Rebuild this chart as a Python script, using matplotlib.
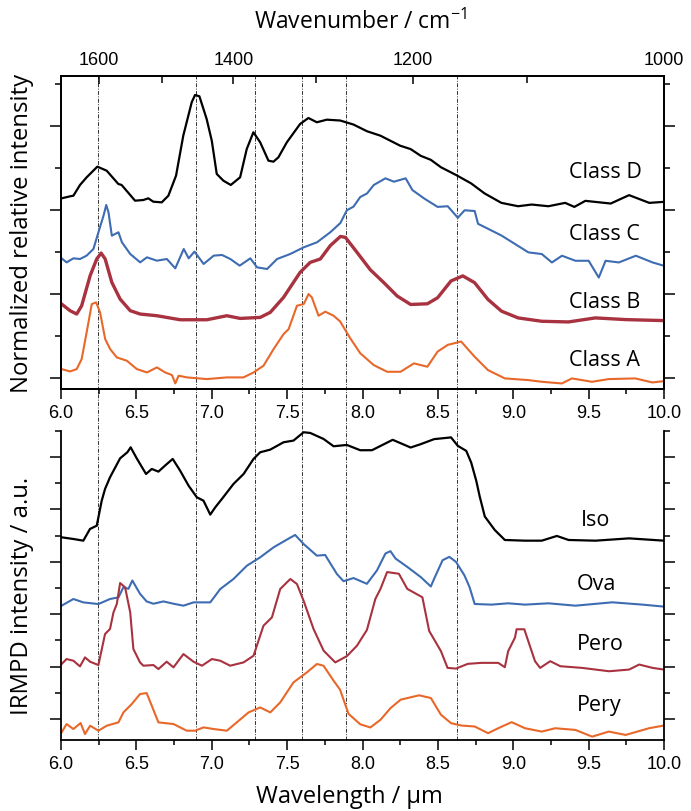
import numpy as np
import matplotlib
matplotlib.use("Agg")
import matplotlib.pyplot as plt
from matplotlib.ticker import MultipleLocator, FixedLocator, NullFormatter
from matplotlib.lines import Line2D
import matplotlib.transforms as mtransforms

plt.rcParams['font.family'] = ['Liberation Sans', 'DejaVu Sans']
plt.rcParams['mathtext.fontset'] = 'custom'
plt.rcParams['mathtext.rm'] = 'Open Sans'
plt.rcParams['mathtext.default'] = 'regular'

# ---- top panel: classes (wavelength in um, offset intensity) ----
class_d_x = [6.004, 6.06, 6.082, 6.126, 6.17, 6.241, 6.303, 6.38, 6.402, 6.491, 6.546, 6.579, 6.612,
             6.668, 6.712, 6.763, 6.811, 6.867, 6.889, 6.918, 6.966, 7.0, 7.033, 7.077, 7.126, 7.188,
             7.232, 7.276, 7.321, 7.376, 7.409, 7.442, 7.498, 7.586, 7.641, 7.697, 7.763, 7.852,
             7.94, 8.03, 8.118, 8.25, 8.319, 8.386, 8.453, 8.52, 8.62, 8.72, 8.81, 8.921, 9.032,
             9.122, 9.233, 9.344, 9.405, 9.478, 9.646, 9.768, 9.902, 10.0]
class_d_y = [2.139, 2.163, 2.17, 2.298, 2.389, 2.516, 2.468, 2.31, 2.298, 2.111, 2.119, 2.139, 2.099,
             2.091, 2.17, 2.409, 2.885, 3.282, 3.369, 3.353, 3.083, 2.825, 2.429, 2.349, 2.298, 2.389,
             2.726, 2.925, 2.806, 2.587, 2.575, 2.627, 2.806, 3.024, 3.095, 3.044, 3.075, 3.065,
             3.017, 2.937, 2.885, 2.765, 2.725, 2.645, 2.597, 2.509, 2.417, 2.317, 2.197, 2.085, 2.045,
             2.065, 2.045, 2.085, 2.037, 2.109, 2.077, 2.177, 2.085, 2.097]

class_c_x = [6.004, 6.037, 6.082, 6.126, 6.17, 6.215, 6.248, 6.282, 6.3, 6.315, 6.337, 6.381, 6.404,
             6.459, 6.525, 6.57, 6.636, 6.702, 6.758, 6.814, 6.847, 6.885, 6.946, 7.013, 7.068, 7.123,
             7.185, 7.256, 7.3, 7.367, 7.433, 7.521, 7.61, 7.698, 7.786, 7.853, 7.896, 7.94, 7.985,
             8.03, 8.074, 8.152, 8.208, 8.286, 8.331, 8.409, 8.498, 8.565, 8.632, 8.677, 8.744, 8.766,
             8.833, 8.922, 9.011, 9.1, 9.189, 9.256, 9.323, 9.412, 9.5, 9.567, 9.612, 9.7, 9.813,
             9.924, 10.0]
class_c_y = [1.425, 1.377, 1.425, 1.417, 1.457, 1.536, 1.735, 1.933, 2.06, 1.972, 1.695, 1.735, 1.616,
             1.477, 1.377, 1.437, 1.397, 1.417, 1.306, 1.536, 1.425, 1.505, 1.358, 1.457, 1.465, 1.417,
             1.338, 1.425, 1.318, 1.298, 1.417, 1.477, 1.556, 1.616, 1.735, 1.845, 1.997, 2.04, 2.155,
             2.197, 2.297, 2.377, 2.337, 2.377, 2.237, 2.137, 2.037, 2.045, 1.908, 1.997, 1.988, 1.836,
             1.776, 1.696, 1.596, 1.496, 1.476, 1.376, 1.456, 1.396, 1.396, 1.196, 1.396, 1.376, 1.456,
             1.376, 1.336]

class_b_x = [6.004, 6.06, 6.104, 6.137, 6.193, 6.237, 6.266, 6.293, 6.337, 6.392, 6.459, 6.525, 6.636,
             6.791, 6.967, 7.1, 7.188, 7.321, 7.388, 7.476, 7.586, 7.653, 7.72, 7.786, 7.853, 7.886,
             7.963, 8.051, 8.141, 8.23, 8.319, 8.43, 8.498, 8.587, 8.665, 8.743, 8.832, 8.922, 9.032,
             9.189, 9.366, 9.544, 9.745, 10.0]
class_b_y = [0.881, 0.802, 0.762, 0.861, 1.218, 1.417, 1.488, 1.417, 1.139, 0.94, 0.802, 0.762, 0.742,
             0.694, 0.694, 0.742, 0.71, 0.722, 0.782, 0.96, 1.258, 1.377, 1.417, 1.576, 1.685, 1.675,
             1.497, 1.29, 1.136, 0.976, 0.876, 0.884, 0.956, 1.156, 1.216, 1.136, 0.936, 0.796, 0.716,
             0.676, 0.668, 0.716, 0.696, 0.684]

class_a_x = [6.004, 6.06, 6.104, 6.137, 6.17, 6.204, 6.233, 6.259, 6.293, 6.326, 6.37, 6.437, 6.503,
             6.57, 6.636, 6.691, 6.736, 6.758, 6.78, 6.836, 6.968, 7.1, 7.21, 7.277, 7.343, 7.41,
             7.476, 7.51, 7.565, 7.61, 7.642, 7.664, 7.708, 7.753, 7.808, 7.851, 7.918, 7.985, 8.074,
             8.163, 8.252, 8.341, 8.43, 8.498, 8.565, 8.654, 8.743, 8.832, 8.944, 9.1, 9.189, 9.322,
             9.389, 9.522, 9.633, 9.81, 9.922, 10.0]
class_a_y = [0.107, 0.079, 0.107, 0.226, 0.544, 0.881, 0.901, 0.782, 0.464, 0.345, 0.246, 0.206, 0.107,
             0.067, 0.127, 0.067, 0.036, -0.063, 0.028, 0.008, -0.012, 0.008, 0.008, 0.067, 0.147, 0.345,
             0.523, 0.583, 0.861, 0.881, 1.0, 0.96, 0.742, 0.79, 0.742, 0.675, 0.475, 0.295, 0.155,
             0.075, 0.075, 0.175, 0.135, 0.315, 0.395, 0.435, 0.255, 0.095, -0.004, -0.024, -0.044, -0.064,
             -0.004, -0.044, -0.012, -0.004, -0.052, -0.036]

# ---- bottom panel: IRMPD spectra ----
iso_x = [6.004, 6.082, 6.148, 6.192, 6.237, 6.27, 6.292, 6.325, 6.392, 6.44, 6.462, 6.502, 6.564,
         6.602, 6.646, 6.69, 6.741, 6.79, 6.846, 6.901, 6.945, 6.99, 7.023, 7.067, 7.144, 7.211,
         7.277, 7.321, 7.388, 7.476, 7.542, 7.609, 7.653, 7.741, 7.808, 7.896, 7.985, 8.063, 8.2,
         8.319, 8.386, 8.475, 8.587, 8.632, 8.688, 8.721, 8.755, 8.777, 8.811, 8.877, 8.944, 9.078,
         9.189, 9.289, 9.367, 9.545, 9.768, 10.0]
iso_y = [3.467, 3.435, 3.403, 3.626, 3.689, 4.166, 4.389, 4.612, 4.974, 5.089, 5.184, 4.974, 4.675,
         4.771, 4.72, 4.835, 4.962, 4.739, 4.453, 4.23, 4.166, 3.9, 4.039, 4.198, 4.485, 4.675,
         4.962, 5.089, 5.14, 5.28, 5.312, 5.471, 5.458, 5.344, 5.204, 5.229, 5.128, 5.129, 5.327,
         5.18, 5.244, 5.34, 5.373, 5.212, 5.116, 4.891, 4.538, 4.249, 3.864, 3.607, 3.416, 3.403,
         3.403, 3.493, 3.416, 3.403, 3.447, 3.403]

ova_x = [6.004, 6.082, 6.148, 6.248, 6.325, 6.381, 6.414, 6.447, 6.473, 6.524, 6.568, 6.613, 6.679,
         6.746, 6.812, 6.879, 6.99, 7.056, 7.144, 7.233, 7.321, 7.41, 7.498, 7.553, 7.609, 7.697,
         7.752, 7.83, 7.874, 7.94, 8.029, 8.096, 8.152, 8.185, 8.219, 8.297, 8.386, 8.453, 8.475,
         8.531, 8.576, 8.62, 8.676, 8.71, 8.744, 8.855, 8.966, 9.078, 9.234, 9.412, 9.657, 9.857, 10.0]
ova_y = [2.163, 2.29, 2.226, 2.194, 2.29, 2.322, 2.515, 2.484, 2.643, 2.39, 2.244, 2.2, 2.244,
         2.2, 2.163, 2.226, 2.226, 2.48, 2.672, 2.926, 3.085, 3.276, 3.423, 3.512, 3.34, 3.117,
         3.13, 2.767, 2.63, 2.69, 2.58, 2.837, 3.158, 3.203, 3.062, 2.902, 2.709, 2.529, 2.677,
         3.03, 3.094, 2.998, 2.741, 2.516, 2.195, 2.183, 2.208, 2.183, 2.208, 2.163, 2.227, 2.183, 2.145]

pero_x = [6.004, 6.037, 6.082, 6.126, 6.159, 6.193, 6.248, 6.292, 6.325, 6.348, 6.37, 6.392, 6.425,
          6.459, 6.48, 6.524, 6.546, 6.613, 6.646, 6.701, 6.746, 6.812, 6.879, 6.935, 7.001, 7.056,
          7.122, 7.211, 7.277, 7.31, 7.343, 7.399, 7.454, 7.521, 7.565, 7.609, 7.675, 7.742, 7.819,
          7.896, 7.963, 8.029, 8.085, 8.119, 8.163, 8.241, 8.297, 8.397, 8.442, 8.52, 8.564, 8.62,
          8.698, 8.788, 8.9, 8.944, 8.966, 9.011, 9.022, 9.073, 9.144, 9.178, 9.245, 9.312, 9.457,
          9.635, 9.768, 9.835, 9.924, 10.0]
pero_y = [1.05, 1.145, 1.113, 1.005, 1.177, 1.094, 1.03, 1.622, 1.718, 2.036, 2.194, 2.595, 2.513,
          2.036, 1.336, 1.081, 1.018, 1.03, 0.954, 1.094, 0.986, 1.24, 1.094, 1.018, 1.145, 1.113,
          1.018, 1.081, 1.208, 1.495, 1.781, 1.94, 2.481, 2.672, 2.576, 2.258, 1.718, 1.304, 1.081,
          1.2, 1.399, 1.7, 2.291, 2.483, 2.804, 2.772, 2.483, 2.323, 1.681, 1.296, 0.976, 0.963,
          1.053, 1.072, 1.072, 0.989, 1.296, 1.553, 1.713, 1.713, 1.104, 0.976, 1.104, 1.008, 0.976,
          0.912, 0.944, 1.04, 0.976, 0.944]

pery_x = [6.004, 6.037, 6.082, 6.13, 6.159, 6.193, 6.248, 6.303, 6.381, 6.414, 6.469, 6.524, 6.568,
          6.602, 6.646, 6.746, 6.834, 6.89, 6.945, 7.012, 7.1, 7.166, 7.244, 7.321, 7.388, 7.454,
          7.542, 7.631, 7.697, 7.741, 7.808, 7.851, 7.907, 7.985, 8.052, 8.119, 8.186, 8.253, 8.375,
          8.453, 8.52, 8.587, 8.654, 8.744, 8.833, 8.9, 8.989, 9.078, 9.189, 9.278, 9.412, 9.523,
          9.634, 9.745, 9.9, 10.0]
pery_y = [-0.254, -0.095, -0.19, -0.076, -0.286, -0.127, -0.222, -0.127, -0.063, 0.127, 0.286, 0.477, 0.496,
          0.254, -0.063, -0.095, -0.222, -0.222, -0.159, -0.19, -0.222, -0.063, 0.127, 0.222, 0.127, 0.318,
          0.7, 0.891, 1.05, 1.018, 0.732, 0.56, 0.1, -0.1, -0.16, -0.014, 0.21, 0.37, 0.453,
          0.402, 0.083, -0.078, -0.123, -0.142, -0.27, -0.175, -0.059, -0.175, -0.239, -0.175, -0.207, -0.335,
          -0.239, -0.303, -0.175, -0.123]

top_names = ['Class D', 'Class C', 'Class B', 'Class A']
bottom_names = ['Iso', 'Ova', 'Pero', 'Pery']
marker_lines = [6.245, 6.893, 7.287, 7.601, 7.889, 8.629]
wn_major = [1600, 1400, 1200, 1000]
wn_minor = [1500, 1300, 1100]
wl_ticks = [6.0, 6.5, 7.0, 7.5, 8.0, 8.5, 9.0, 9.5, 10.0]

c_black = '#000000'
c_blue = '#3e6cb2'
c_red = '#a8323f'
c_orange = '#e8682a'

label_font = 'Open Sans'

fig = plt.figure(figsize=(6.91, 8.12), dpi=100)
ax1 = fig.add_axes([0.0883, 0.5197, 0.8727, 0.3855])
ax2 = fig.add_axes([0.0883, 0.0874, 0.8727, 0.3809])

ax1.plot(class_d_x, class_d_y, color=c_black, lw=1.6)
ax1.plot(class_c_x, class_c_y, color=c_blue, lw=1.5)
ax1.plot(class_b_x, class_b_y, color=c_red, lw=2.4)
ax1.plot(class_a_x, class_a_y, color=c_orange, lw=1.5)

ax2.plot(iso_x, iso_y, color=c_black, lw=1.6)
ax2.plot(ova_x, ova_y, color=c_blue, lw=1.5)
ax2.plot(pero_x, pero_y, color=c_red, lw=1.5)
ax2.plot(pery_x, pery_y, color=c_orange, lw=1.5)

ax1.set_xlim(6.0, 10.0)
ax2.set_xlim(6.0, 10.0)
ax1.set_ylim(-0.13, 3.595)
ax2.set_ylim(-0.40, 5.50)

for ax in (ax1, ax2):
    ax.set_facecolor('none')
    for s in ax.spines.values():
        s.set_linewidth(1.3)
    ax.set_xticks(wl_ticks)
    ax.set_xticklabels(['%.1f' % v for v in wl_ticks])
    ax.xaxis.set_minor_locator(MultipleLocator(0.25))
    ax.yaxis.set_major_locator(MultipleLocator(1.0))
    ax.yaxis.set_minor_locator(MultipleLocator(0.5))
    ax.yaxis.set_major_formatter(NullFormatter())
    ax.tick_params(axis='x', which='major', direction='out', length=7, width=1.1,
                   labelsize=13, pad=4)
    ax.tick_params(axis='x', which='minor', direction='out', length=3.8, width=1.1)
    ax.tick_params(axis='y', which='major', direction='out', length=8, width=1.1,
                   left=True, right=True)
    ax.tick_params(axis='y', which='minor', direction='out', length=4.3, width=1.1,
                   left=True, right=True)
ax2.spines['top'].set_visible(False)

# wavenumber axis on top
axt = ax1.twiny()
axt.set_xlim(ax1.get_xlim())
axt.set_xticks([1e4 / w for w in wn_major])
axt.set_xticklabels([str(w) for w in wn_major], fontsize=13)
axt.xaxis.set_minor_locator(FixedLocator([1e4 / w for w in wn_minor]))
axt.tick_params(axis='x', which='major', direction='in', length=6, width=1.1, pad=6)
axt.tick_params(axis='x', which='minor', direction='in', length=5, width=1.1)
for s in axt.spines.values():
    s.set_linewidth(1.3)

# dash-dot marker lines through both panels
trans = mtransforms.blended_transform_factory(ax1.transData, fig.transFigure)
for xv in marker_lines:
    fig.add_artist(Line2D([xv, xv], [0.0874, 0.9052], transform=trans, color='#333333',
                          lw=0.7, linestyle=(0, (4, 1.5, 1, 1.5)), zorder=0))

# curve names
top_label_y = [2.457, 1.726, 0.917, 0.226]
for name, yv in zip(top_names, top_label_y):
    ax1.text(9.367, yv, name, fontfamily=label_font, fontsize=15.5, va='center', ha='left')
bottom_label_x = [9.45, 9.42, 9.42, 9.42]
bottom_label_y = [3.80, 2.58, 1.44, 0.286]
for name, xv, yv in zip(bottom_names, bottom_label_x, bottom_label_y):
    ax2.text(xv, yv, name, fontfamily=label_font, fontsize=15.5, va='center', ha='left')

fig.text(22 / 691, 1 - 233 / 812, 'Normalized relative intensity', rotation=90,
         fontfamily=label_font, fontsize=17.2, ha='center', va='center')
fig.text(22 / 691, 1 - 596 / 812, 'IRMPD intensity / a.u.', rotation=90,
         fontfamily=label_font, fontsize=17.2, ha='center', va='center')
fig.text(360 / 691, 1 - 22 / 812, 'Wavenumber / cm$^{-1}$',
         fontfamily=label_font, fontsize=16.5, ha='center', va='center')
fig.text(349 / 691, 1 - 797 / 812, 'Wavelength / µm',
         fontfamily=label_font, fontsize=17, ha='center', va='center')

fig.savefig('out.png', dpi=100)
